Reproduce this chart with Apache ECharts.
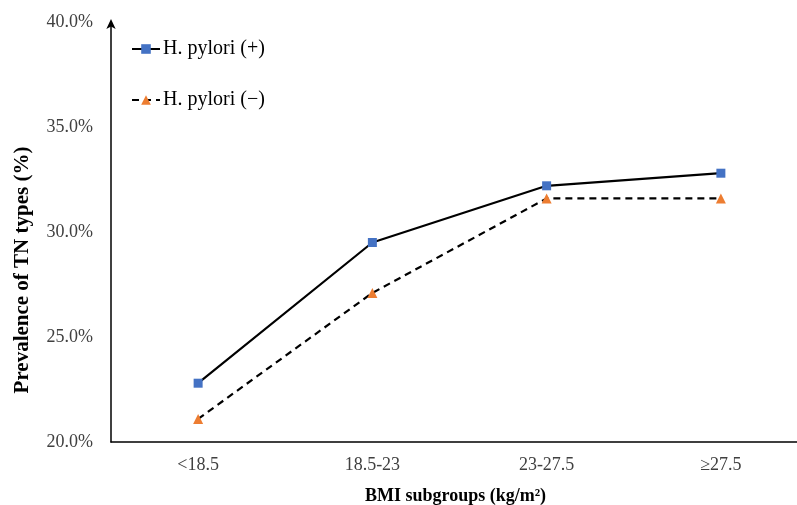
<!DOCTYPE html>
<html>
<head>
<meta charset="utf-8">
<script src="https://cdn.jsdelivr.net/npm/echarts@6/dist/echarts.min.js"></script>
<style>html,body{margin:0;padding:0;background:#fff}#c{width:797px;height:505px}</style>
</head>
<body>
<div id="c"></div>
<script>
var categories = ['<18.5', '18.5-23', '23-27.5', '\u226527.5'];
var hpPositive = [22.8, 29.5, 32.2, 32.8];
var hpNegative = [21.1, 27.1, 31.6, 31.6];
var seriesNames = ['H. pylori (+)', 'H. pylori (\u2212)'];
var yMin = 20, yMax = 40, yStep = 5;

var font = 'Liberation Serif, Times New Roman, serif';
var chart = echarts.init(document.getElementById('c'));
chart.setOption({
  animation: false,
  textStyle: { fontFamily: font },
  grid: { left: 111, top: 22, width: 697, height: 420, containLabel: false, outerBoundsMode: 'none' },
  legend: {
    orient: 'vertical', left: 126, top: 34, itemGap: 31,
    itemWidth: 28, itemHeight: 12,
    textStyle: { fontFamily: font, fontSize: 20, color: '#000', padding: [0, 0, 0, -2] },
    data: seriesNames
  },
  xAxis: {
    type: 'category', data: categories, boundaryGap: true,
    axisLine: { lineStyle: { color: '#000', width: 1.5 } },
    axisTick: { show: false },
    axisLabel: { color: '#404040', fontSize: 18, fontFamily: font, margin: 14 },
    name: 'BMI subgroups (kg/m\u00b2)', nameLocation: 'middle', nameGap: 45,
    nameTextStyle: { fontFamily: font, fontSize: 18, fontWeight: 'bold', color: '#000', padding: [0, 8, 0, 0] }
  },
  yAxis: {
    type: 'value', min: yMin, max: yMax, interval: yStep,
    splitLine: { show: false },
    axisLine: { show: true, symbol: ['none', 'arrow'], symbolSize: [7, 10], symbolOffset: [0, 3], lineStyle: { color: '#000', width: 1.5 } },
    axisTick: { show: false },
    axisLabel: { color: '#404040', fontSize: 18, fontFamily: font, margin: 18, formatter: function (v) { return v.toFixed(1) + '%'; } },
    name: 'Prevalence of TN types (%)', nameLocation: 'middle', nameGap: 78,
    nameTextStyle: { fontFamily: font, fontSize: 21, fontWeight: 'bold', color: '#000', padding: [0, 76, 0, 0] }
  },
  series: [
    {
      name: seriesNames[0], type: 'line', data: hpPositive,
      symbol: 'rect', symbolSize: 9,
      itemStyle: { color: '#4472C4' },
      lineStyle: { color: '#000', width: 2.2, type: 'solid' }
    },
    {
      name: seriesNames[1], type: 'line', data: hpNegative,
      symbol: 'triangle', symbolSize: 10,
      itemStyle: { color: '#ED7D31' },
      lineStyle: { color: '#000', width: 2.2, type: [7, 5] }
    }
  ]
});
</script>
</body>
</html>
